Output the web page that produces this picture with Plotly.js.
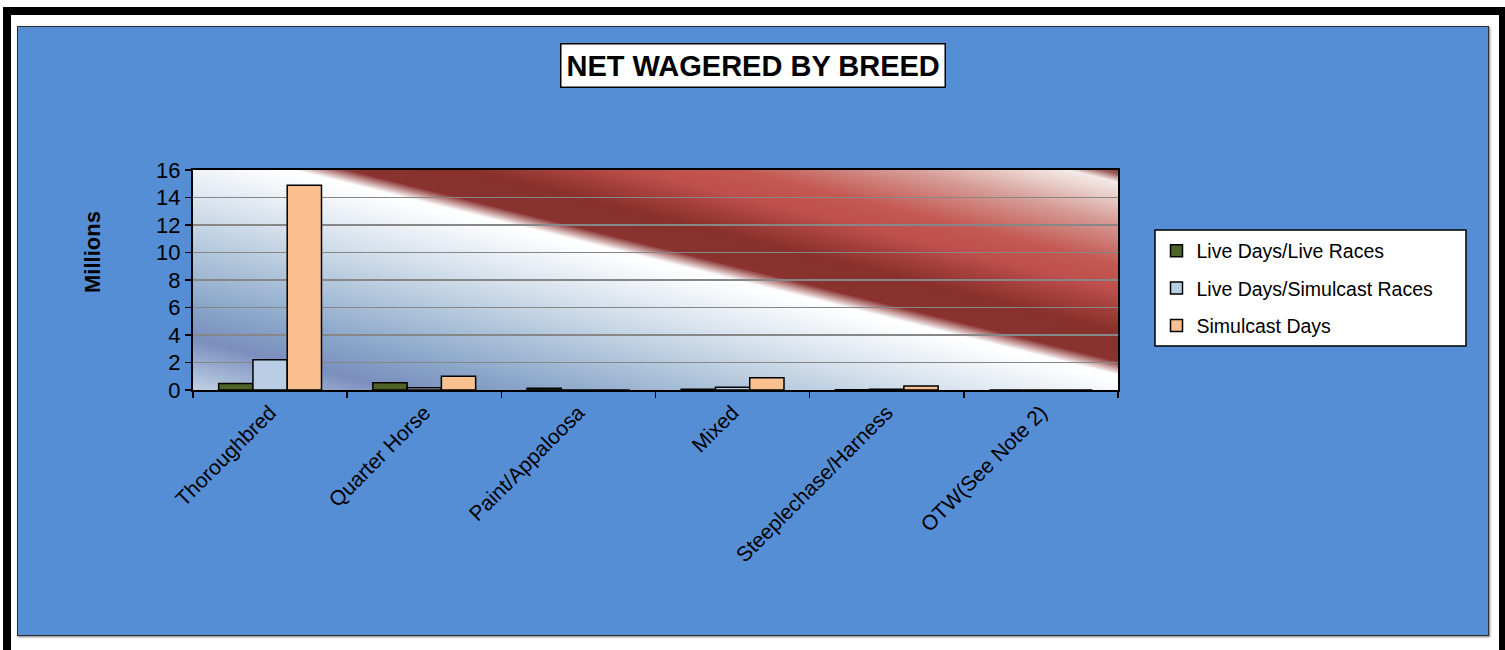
<!DOCTYPE html>
<html><head><meta charset="utf-8">
<script src="https://cdn.plot.ly/plotly-3.0.1.min.js"></script>
<style>
html,body{margin:0;padding:0;background:#fff;width:1505px;height:650px;overflow:hidden;}
#frame{position:absolute;left:3px;top:7px;width:1504px;height:680px;border:8px solid #000;box-sizing:border-box;}
#wrap{position:absolute;left:17px;top:26px;width:1472px;height:610px;border:1px solid #2e2e2e;box-sizing:border-box;box-shadow:1px 1px 2px #777;}
#chart{position:absolute;left:18px;top:27px;width:1470px;height:608px;}
</style></head><body>
<div id="frame"></div><div id="wrap"></div><div id="chart"></div>
<script>
const categories = ['Thoroughbred','Quarter Horse','Paint/Appaloosa','Mixed','Steeplechase/Harness','OTW(See Note 2)'];
const seriesNames = ['Live Days/Live Races','Live Days/Simulcast Races','Simulcast Days'];
const liveDaysLiveRaces = [0.47, 0.52, 0.12, 0.05, 0.02, 0];
const liveDaysSimulcastRaces = [2.2, 0.16, 0, 0.2, 0.05, 0];
const simulcastDays = [14.9, 1.0, 0, 0.9, 0.3, 0];
const yTickVals = [0, 2, 4, 6, 8, 10, 12, 14, 16];
const chartTitle = 'NET WAGERED BY BREED';
const yTitle = 'Millions';

const seriesColors = ['#4F6228', '#B9CDE5', '#FAC090'];
const FONT = 'Liberation Sans, Arial, sans-serif';
const W = 1470, H = 608;
const M = {l: 175, r: 370, t: 143, b: 245};
const PW = W - M.l - M.r, PH = H - M.t - M.b;
const px2x = p => (p - M.l) / PW;       // chart-local px -> paper x
const px2y = p => (H - M.b - p) / PH;   // chart-local px -> paper y
const LEG = {left: 1137, right: 1448, top: 203, bottom: 319};

function makeBackground(w, h) {
  const c = document.createElement('canvas');
  c.width = w; c.height = h;
  const g = c.getContext('2d');
  const px = 97, py = 2;
  const dx = w - px, dy = 208 - py;
  const len = Math.hypot(dx, dy);
  const nx = dy / len, ny = -dx / len;
  const dMin = -245, dMax = 210;
  const grad = g.createLinearGradient(px + nx * dMin, py + ny * dMin, px + nx * dMax, py + ny * dMax);
  const stops = [
    [-245, '#D2DFEB'], [-215, '#A3B6D4'], [-185, '#7B8FBE'], [-150, '#8AA6C9'],
    [-100, '#B1C6DB'], [-50, '#DAE4EE'], [-10, '#F8FAFC'], [0, '#FFFFFF'], [3, '#FFFFFF'],
    [16, '#8A3230'], [45, '#88302B'], [85, '#BE4F4C'], [110, '#C45853'],
    [150, '#D69B95'], [180, '#EDD9D4'], [190, '#F3EAE8'], [198, '#9A5A56'], [210, '#5A1A18']
  ];
  stops.forEach(s => grad.addColorStop((s[0] - dMin) / (dMax - dMin), s[1]));
  g.fillStyle = grad;
  g.fillRect(0, 0, w, h);
  return c.toDataURL();
}

const seriesValues = [liveDaysLiveRaces, liveDaysSimulcastRaces, simulcastDays];
const traces = seriesValues.map((vals, i) => ({
  type: 'bar',
  name: seriesNames[i],
  x: categories,
  y: vals,
  legendgroup: 'g' + i,
  marker: {color: seriesColors[i], line: {color: '#000', width: 1.5}},
  hoverinfo: 'x+y+name'
}));

const layout = {
  width: W, height: H,
  margin: M,
  paper_bgcolor: '#558ED5',
  plot_bgcolor: 'rgba(0,0,0,0)',
  font: {family: FONT, color: '#000', size: 20},
  barmode: 'group',
  bargap: 0.333,
  bargroupgap: 0,
  showlegend: true,
  legend: {
    x: px2x(LEG.left + 1.5), y: px2y(LEG.top + 1.5), xanchor: 'left', yanchor: 'top',
    bgcolor: 'rgba(0,0,0,0)', borderwidth: 0,
    font: {family: FONT, size: 19.5, color: '#000'},
    traceorder: 'grouped', tracegroupgap: 9
  },
  shapes: [{
    type: 'rect', xref: 'paper', yref: 'paper', layer: 'below',
    x0: px2x(LEG.left), x1: px2x(LEG.right), y0: px2y(LEG.bottom), y1: px2y(LEG.top),
    fillcolor: '#fff', line: {color: '#000', width: 1.5}
  }],
  xaxis: {
    type: 'category',
    showline: true, linecolor: '#000', linewidth: 2, mirror: true,
    ticks: 'outside', ticklen: 6, tickwidth: 1.5, tickcolor: '#000',
    tickson: 'boundaries', tickangle: -45,
    tickfont: {family: FONT, size: 21, color: '#000'},
    showgrid: false, zeroline: false, automargin: false
  },
  yaxis: {
    range: [0, 16], tickvals: yTickVals, ticktext: yTickVals.map(String),
    showline: true, linecolor: '#000', linewidth: 2, mirror: true,
    ticks: 'outside', ticklen: 6, tickwidth: 1.5, tickcolor: '#000',
    tickfont: {family: FONT, size: 22, color: '#000'},
    showgrid: true, gridcolor: '#878787', gridwidth: 1.5, zeroline: false,
    automargin: false
  },
  annotations: [{
    text: '<b>' + chartTitle + '</b>',
    xref: 'paper', yref: 'paper',
    x: px2x(W / 2), y: px2y(38.5),
    xanchor: 'center', yanchor: 'middle', showarrow: false,
    font: {family: FONT, size: 29, color: '#000'},
    bgcolor: '#fff', bordercolor: '#000', borderwidth: 1.5, borderpad: 5
  }, {
    text: '<b>' + yTitle + '</b>',
    xref: 'paper', yref: 'paper',
    x: px2x(74), y: px2y(225),
    xanchor: 'center', yanchor: 'middle', showarrow: false, textangle: -90,
    font: {family: FONT, size: 22, color: '#000'}
  }],
  images: [{
    source: makeBackground(PW, PH),
    xref: 'paper', yref: 'paper', x: 0, y: 1, sizex: 1, sizey: 1,
    xanchor: 'left', yanchor: 'top', sizing: 'stretch', layer: 'below'
  }]
};

Plotly.newPlot('chart', traces, layout, {displayModeBar: false, staticPlot: true});
</script>
</body></html>
